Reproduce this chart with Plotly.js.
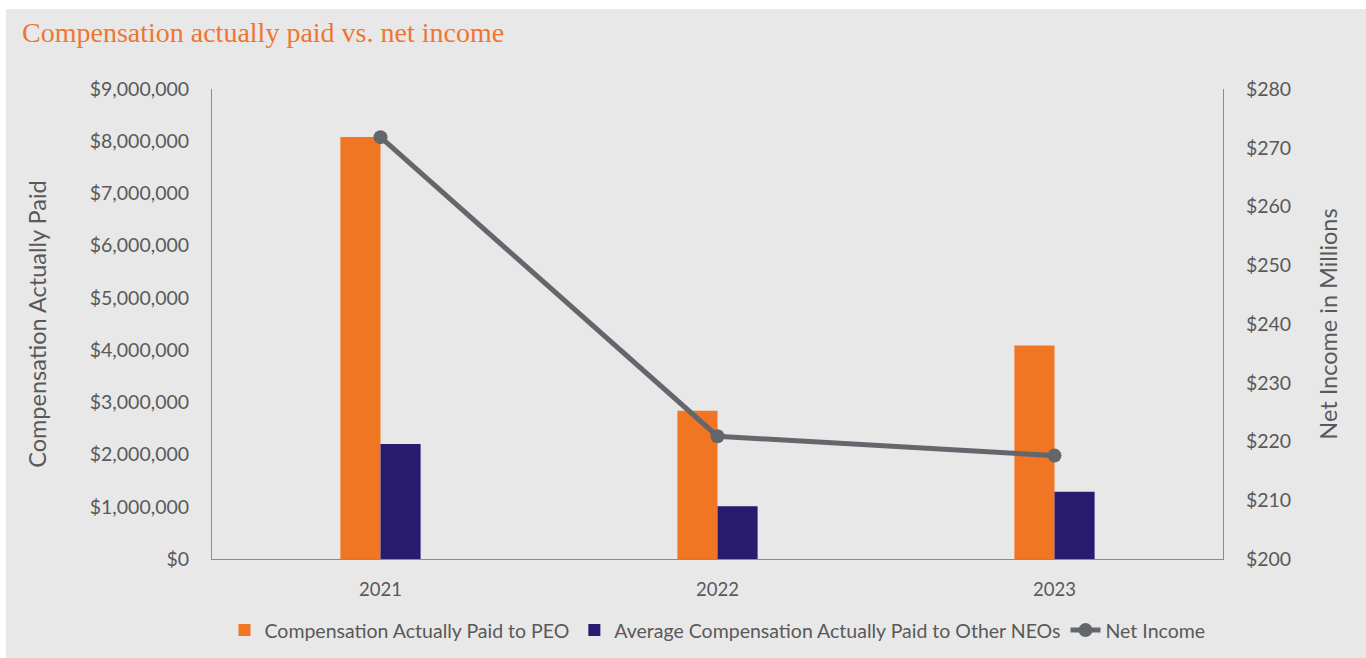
<!DOCTYPE html>
<html>
<head>
<meta charset="utf-8">
<script src="https://cdn.plot.ly/plotly-3.0.1.min.js"></script>
<style>
html,body{margin:0;padding:0;background:#ffffff;}
#chart{position:absolute;left:6px;top:9px;width:1360px;height:649px;}
</style>
</head>
<body>
<div id="chart"></div>
<script>
const years = ['2021', '2022', '2023'];
const peoCAP = [8080000, 2840000, 4090000];
const otherNeoCAP = [2200000, 1010000, 1290000];
const netIncome = [271.8, 220.9, 217.6];

const font = 'Lato, "Open Sans", sans-serif';
const grey = '#595959';

const traces = [
  {type: 'bar', name: 'Compensation Actually Paid to PEO', x: years, y: peoCAP,
   marker: {color: '#F07623'}, yaxis: 'y', hoverinfo: 'y+name'},
  {type: 'bar', name: 'Average Compensation Actually Paid to Other NEOs', x: years, y: otherNeoCAP,
   marker: {color: '#281A6E'}, yaxis: 'y', hoverinfo: 'y+name'},
  {type: 'scatter', mode: 'lines+markers', name: 'Net Income', x: years, y: netIncome,
   yaxis: 'y2', line: {color: '#63666A', width: 5}, marker: {color: '#63666A', size: 14}}
];

const layout = {
  width: 1360, height: 649,
  paper_bgcolor: '#E8E8E8', plot_bgcolor: '#E8E8E8',
  margin: {l: 206, r: 143, t: 80, b: 99, autoexpand: false},
  font: {family: font, color: grey, size: 19.5},
  title: {text: 'Compensation actually paid vs. net income', x: 16/1360, xanchor: 'left', xref: 'container',
          y: 1 - 23/649, yanchor: 'middle', yref: 'container',
          font: {family: '"Liberation Serif", "DejaVu Serif", serif', size: 28, color: '#EE7631'}},
  barmode: 'group', bargap: 0.762, bargroupgap: 0,
  showlegend: true,
  legend: {orientation: 'h', x: 0.5, xanchor: 'center', y: -0.152, yanchor: 'middle',
           font: {size: 19.5, color: grey}, bgcolor: 'rgba(0,0,0,0)', itemwidth: 30, traceorder: 'normal'},
  xaxis: {type: 'category', showline: true, linecolor: '#8C8C8C', linewidth: 1, showgrid: false,
          ticks: '', tickfont: {size: 18.5, color: grey}, ticklabelstandoff: 14, zeroline: false},
  yaxis: {range: [0, 9000000], dtick: 1000000, tickprefix: '$', tickformat: ',d', showgrid: false,
          showline: true, linecolor: '#8C8C8C', linewidth: 1, zeroline: false, ticks: '',
          ticklabelstandoff: 18, tickfont: {size: 19.5, color: grey},
          title: {text: 'Compensation Actually Paid', font: {size: 23.5, color: grey}, standoff: 36}},
  yaxis2: {range: [200, 280], dtick: 10, tickprefix: '$', overlaying: 'y', side: 'right', showgrid: false,
           showline: true, linecolor: '#8C8C8C', linewidth: 1, zeroline: false, ticks: '',
           ticklabelstandoff: 18, tickfont: {size: 19.5, color: grey},
           title: {text: 'Net Income in Millions', font: {size: 23.5, color: grey}, standoff: 30}}
};

Plotly.newPlot('chart', traces, layout, {displayModeBar: false, responsive: false});
</script>
</body>
</html>
